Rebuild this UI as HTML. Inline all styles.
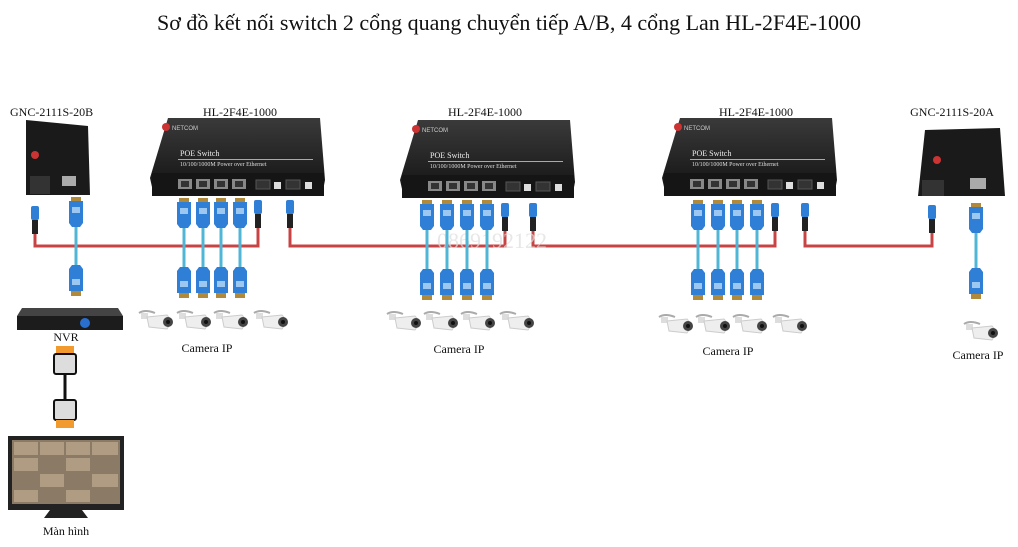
<!DOCTYPE html>
<html><head><meta charset="utf-8"><style>
body{margin:0;background:#fff;}
svg{display:block;font-family:"Liberation Serif",serif;}
</style></head><body>
<svg width="1018" height="547" viewBox="0 0 1018 547" xmlns="http://www.w3.org/2000/svg">
<defs>
<linearGradient id="sw" x1="0" y1="0" x2="0" y2="1"><stop offset="0" stop-color="#3a3a3a"/><stop offset="1" stop-color="#111"/></linearGradient>
<g id="switch">
 <polygon points="18,0 170,0 175,62 172,78 4,78 0,60" fill="url(#sw)"/>
 <rect x="2" y="55" width="172" height="23" fill="#151515"/>
 <circle cx="16" cy="9" r="4" fill="#c33"/>
 <text x="22" y="12" font-size="6" fill="#ccc" font-family="Liberation Sans,sans-serif">NETCOM</text>
 <text x="30" y="38" font-size="8" fill="#eee">POE Switch</text>
 <rect x="28" y="41" width="135" height="1" fill="#aaa"/>
 <text x="30" y="48" font-size="6" fill="#ddd">10/100/1000M Power over Ethernet</text>
 <g fill="#888"><rect x="28" y="61" width="14" height="10"/><rect x="46" y="61" width="14" height="10"/><rect x="64" y="61" width="14" height="10"/><rect x="82" y="61" width="14" height="10"/></g>
 <g fill="#333"><rect x="31" y="63" width="8" height="6"/><rect x="49" y="63" width="8" height="6"/><rect x="67" y="63" width="8" height="6"/><rect x="85" y="63" width="8" height="6"/></g>
 <rect x="106" y="62" width="14" height="9" fill="#333" stroke="#555"/>
 <rect x="124" y="64" width="7" height="7" fill="#ddd"/>
 <rect x="136" y="62" width="14" height="9" fill="#333" stroke="#555"/>
 <rect x="155" y="64" width="7" height="7" fill="#ddd"/>
</g>
<g id="rjup">
 <rect x="-5" y="0" width="10" height="4" fill="#b08a3a"/>
 <path d="M-7,4 H7 V26 L4,30 H-4 L-7,26 Z" fill="#2f7fd6"/>
 <rect x="-4" y="10" width="8" height="6" fill="#9cc7f0"/>
</g>
<g id="rjdn">
 <path d="M-7,26 H7 V4 L4,0 H-4 L-7,4 Z" fill="#2f7fd6"/>
 <rect x="-4" y="14" width="8" height="6" fill="#9cc7f0"/>
 <rect x="-5" y="26" width="10" height="5" fill="#b08a3a"/>
</g>
<g id="fib">
 <rect x="-4" y="0" width="8" height="14" rx="2" fill="#2f7fd6"/>
 <rect x="-3" y="14" width="6" height="14" fill="#222"/>
</g>
<g id="cam">
 <path d="M-18,-8 Q-12,-12 -2,-8" stroke="#aaa" fill="none" stroke-width="2"/>
 <rect x="-16" y="-8" width="7" height="6" fill="#ddd"/>
 <path d="M-10,-4 L10,-6 Q16,0 10,8 L-8,6 Z" fill="#eee" stroke="#ccc"/>
 <circle cx="11" cy="1" r="5" fill="#444"/>
 <circle cx="11" cy="1" r="2" fill="#111"/>
</g>
</defs>

<text x="509" y="30" font-size="22" text-anchor="middle" fill="#111">Sơ đồ kết nối switch 2 cổng quang chuyển tiếp A/B, 4 cổng Lan HL-2F4E-1000</text>

<!-- red fiber lines -->
<g stroke="#c84444" stroke-width="3" fill="none">
<polyline points="35,225 35,246 258,246 258,225"/>
<polyline points="290,225 290,246 505,246 505,228"/>
<polyline points="533,228 533,246 775,246 775,228"/>
<polyline points="805,228 805,246 932,246 932,228"/>
</g>

<text x="492" y="248" font-size="22" text-anchor="middle" fill="#ddd" opacity="0.7">0869192122</text>

<!-- labels -->
<g font-size="12" fill="#111">
<text x="10" y="116">GNC-2111S-20B</text>
<text x="240" y="116" text-anchor="middle">HL-2F4E-1000</text>
<text x="485" y="116" text-anchor="middle">HL-2F4E-1000</text>
<text x="756" y="116" text-anchor="middle">HL-2F4E-1000</text>
<text x="952" y="116" text-anchor="middle">GNC-2111S-20A</text>
<text x="207" y="352" text-anchor="middle">Camera  IP</text>
<text x="459" y="353" text-anchor="middle">Camera  IP</text>
<text x="728" y="355" text-anchor="middle">Camera  IP</text>
<text x="978" y="359" text-anchor="middle">Camera  IP</text>
<text x="66" y="341" text-anchor="middle">NVR</text>
<text x="66" y="535" text-anchor="middle">Màn hình</text>
</g>

<!-- converters -->
<polygon points="26,120 88,126 90,195 26,195" fill="#1a1a1a"/>
<rect x="30" y="176" width="20" height="18" fill="#333"/>
<rect x="62" y="176" width="14" height="10" fill="#aaa"/>
<circle cx="35" cy="155" r="4" fill="#c33"/>
<polygon points="925,130 1000,128 1005,196 918,196" fill="#1a1a1a"/>
<rect x="922" y="180" width="22" height="16" fill="#333"/>
<rect x="970" y="178" width="16" height="11" fill="#aaa"/>
<circle cx="937" cy="160" r="4" fill="#c33"/>

<!-- switches -->
<use href="#switch" x="150" y="118"/>
<use href="#switch" x="400" y="120"/>
<use href="#switch" x="662" y="118"/>

<!-- blue cables -->
<g stroke="#4fb6d6" stroke-width="3">
<line x1="76" y1="225" x2="76" y2="265"/>
<line x1="184" y1="225" x2="184" y2="268"/><line x1="203" y1="225" x2="203" y2="268"/><line x1="221" y1="225" x2="221" y2="268"/><line x1="240" y1="225" x2="240" y2="268"/>
<line x1="427" y1="228" x2="427" y2="270"/><line x1="447" y1="228" x2="447" y2="270"/><line x1="467" y1="228" x2="467" y2="270"/><line x1="487" y1="228" x2="487" y2="270"/>
<line x1="698" y1="228" x2="698" y2="270"/><line x1="718" y1="228" x2="718" y2="270"/><line x1="737" y1="228" x2="737" y2="270"/><line x1="757" y1="228" x2="757" y2="270"/>
<line x1="976" y1="230" x2="976" y2="268"/>
</g>
<use href="#rjup" x="76" y="197"/><use href="#rjdn" x="76" y="265"/>
<use href="#rjup" x="184" y="198"/><use href="#rjup" x="203" y="198"/><use href="#rjup" x="221" y="198"/><use href="#rjup" x="240" y="198"/>
<use href="#rjdn" x="184" y="267"/><use href="#rjdn" x="203" y="267"/><use href="#rjdn" x="221" y="267"/><use href="#rjdn" x="240" y="267"/>
<use href="#rjup" x="427" y="200"/><use href="#rjup" x="447" y="200"/><use href="#rjup" x="467" y="200"/><use href="#rjup" x="487" y="200"/>
<use href="#rjdn" x="427" y="269"/><use href="#rjdn" x="447" y="269"/><use href="#rjdn" x="467" y="269"/><use href="#rjdn" x="487" y="269"/>
<use href="#rjup" x="698" y="200"/><use href="#rjup" x="718" y="200"/><use href="#rjup" x="737" y="200"/><use href="#rjup" x="757" y="200"/>
<use href="#rjdn" x="698" y="269"/><use href="#rjdn" x="718" y="269"/><use href="#rjdn" x="737" y="269"/><use href="#rjdn" x="757" y="269"/>
<use href="#rjup" x="976" y="203"/><use href="#rjdn" x="976" y="268"/>

<!-- fiber connectors -->
<use href="#fib" x="35" y="206"/><use href="#fib" x="258" y="200"/><use href="#fib" x="290" y="200"/>
<use href="#fib" x="505" y="203"/><use href="#fib" x="533" y="203"/>
<use href="#fib" x="775" y="203"/><use href="#fib" x="805" y="203"/><use href="#fib" x="932" y="205"/>

<!-- cameras -->
<use href="#cam" x="157" y="321"/><use href="#cam" x="195" y="321"/><use href="#cam" x="232" y="321"/><use href="#cam" x="272" y="321"/>
<use href="#cam" x="405" y="322"/><use href="#cam" x="442" y="322"/><use href="#cam" x="479" y="322"/><use href="#cam" x="518" y="322"/>
<use href="#cam" x="677" y="325"/><use href="#cam" x="714" y="325"/><use href="#cam" x="751" y="325"/><use href="#cam" x="791" y="325"/>
<use href="#cam" x="982" y="332"/>

<!-- NVR -->
<polygon points="22,308 118,308 123,316 17,316" fill="#444"/>
<rect x="17" y="316" width="106" height="14" fill="#1c1c1c"/>
<circle cx="85" cy="323" r="5" fill="#2a6fd0"/>

<!-- HDMI -->
<rect x="56" y="346" width="18" height="8" fill="#f29a2e"/>
<rect x="54" y="354" width="22" height="20" rx="2" fill="#ddd" stroke="#111" stroke-width="2"/>
<line x1="65" y1="374" x2="65" y2="400" stroke="#111" stroke-width="3"/>
<rect x="54" y="400" width="22" height="20" rx="2" fill="#ddd" stroke="#111" stroke-width="2"/>
<rect x="56" y="420" width="18" height="8" fill="#f29a2e"/>

<!-- Monitor -->
<rect x="8" y="436" width="116" height="74" fill="#222"/>
<rect x="12" y="440" width="108" height="64" fill="#8a7a66"/>
<g fill="#b9a58a" opacity="0.8">
<rect x="14" y="442" width="24" height="13"/><rect x="40" y="442" width="24" height="13"/><rect x="66" y="442" width="24" height="13"/><rect x="92" y="442" width="26" height="13"/>
<rect x="14" y="458" width="24" height="13"/><rect x="66" y="458" width="24" height="13"/>
<rect x="40" y="474" width="24" height="13"/><rect x="92" y="474" width="26" height="13"/>
<rect x="14" y="490" width="24" height="12"/><rect x="66" y="490" width="24" height="12"/>
</g>
<polygon points="50,510 82,510 88,518 44,518" fill="#222"/>
</svg>
</body></html>
